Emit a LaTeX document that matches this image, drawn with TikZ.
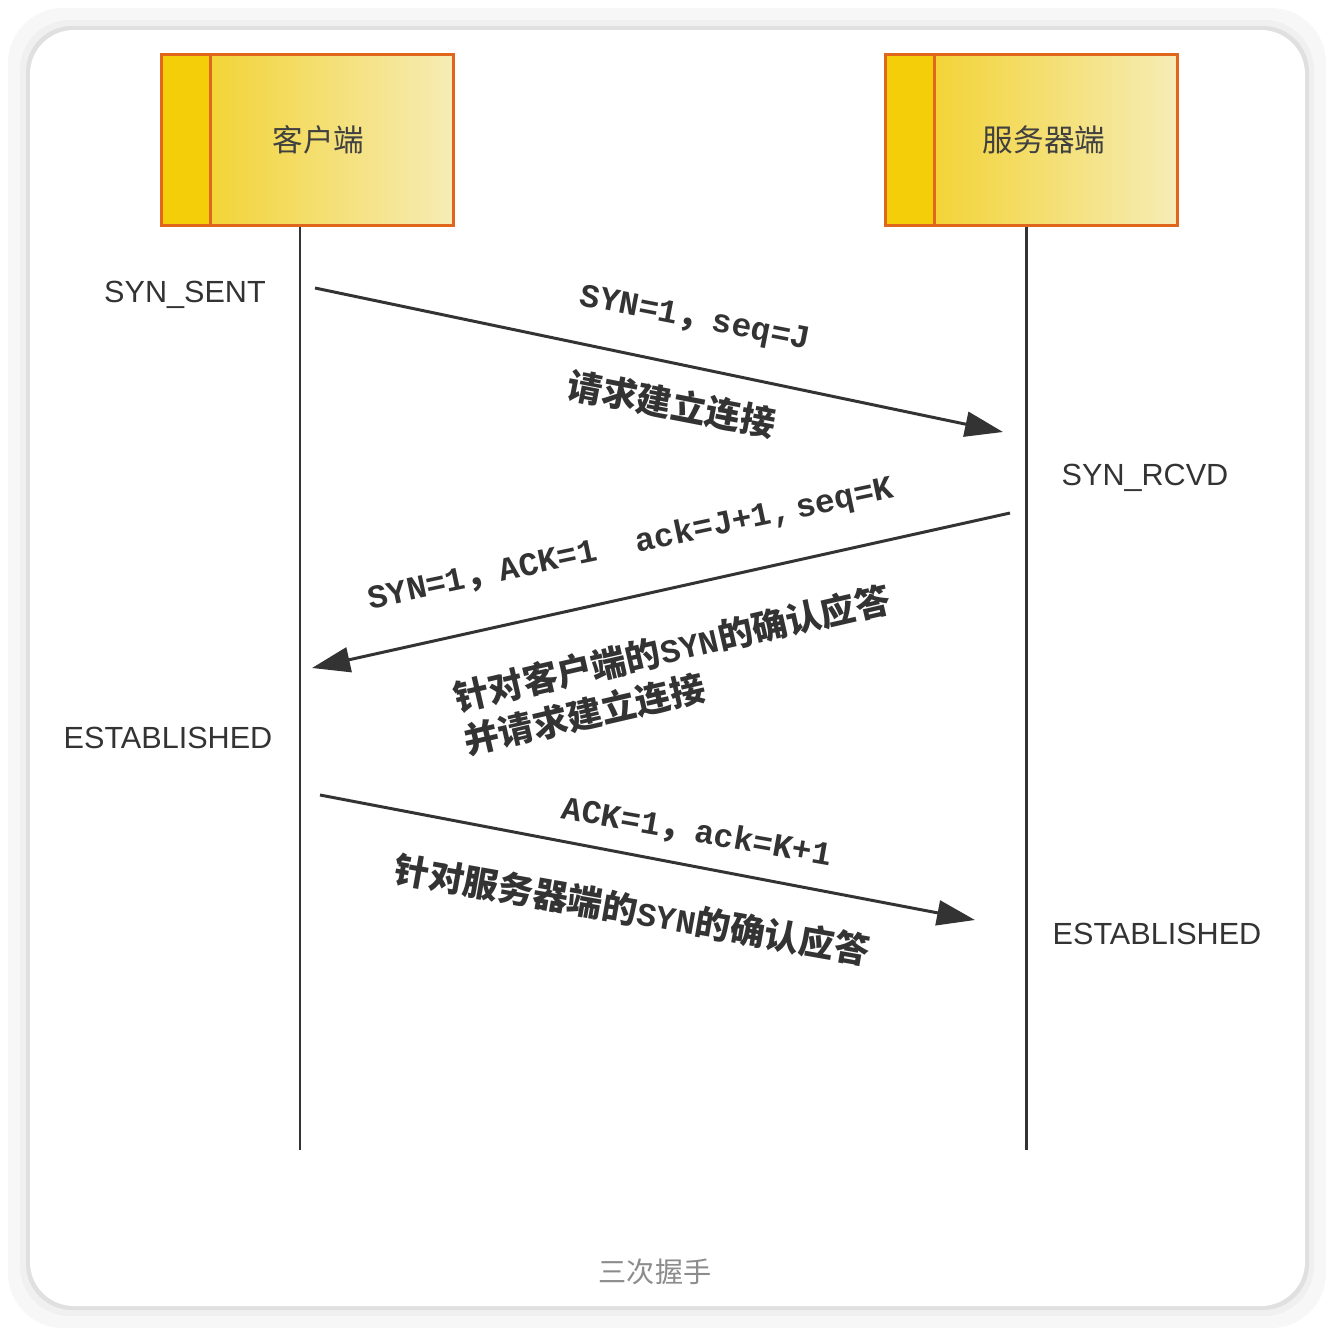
\documentclass[tikz,border=0pt]{standalone}
\usepackage{fontspec}
\setmainfont{Liberation Sans}
\newfontfamily\cjk{Noto Sans CJK SC}
\newfontfamily\mono{Liberation Mono}
\usetikzlibrary{arrows.meta,calc}

\definecolor{boxedge}{HTML}{E0661E}
\definecolor{boxstrip}{HTML}{F4CE08}
\definecolor{boxleft}{HTML}{F2CF1E}
\definecolor{boxright}{HTML}{F6ECB6}
\definecolor{inkline}{HTML}{333333}
\definecolor{captiongray}{HTML}{8C8C8C}

\newcommand{\lat}[1]{{\mono\fontsize{9.4}{12}\selectfont #1}}

\tikzset{
  hostbox/.style={draw=boxedge, line width=0.85pt, minimum width=2.91cm, minimum height=1.70cm,
    left color=boxleft, right color=boxright,
    path picture={
      \fill[boxstrip] (path picture bounding box.south west) rectangle ([xshift=0.49cm]path picture bounding box.north west);
      \draw[boxedge, line width=0.85pt] ([xshift=0.49cm]path picture bounding box.south west) -- ([xshift=0.49cm]path picture bounding box.north west);
    }},
  hosttext/.style={font=\cjk\fontsize{8.7}{10}\selectfont, text=black!75},
  lifeline/.style={draw=inkline, line width=0.85pt},
  msg/.style={draw=inkline, line width=0.85pt, -{Triangle[length=0.38cm, width=0.25cm]}},
  msglabel/.style={font=\cjk\bfseries\fontsize{10}{12.6}\selectfont, text=black!80, inner sep=0pt},
  state/.style={font=\fontsize{8.7}{10}\selectfont, text=black!80},
  caption/.style={font=\cjk\fontsize{8}{10}\selectfont, text=captiongray}
}

\begin{document}
\begin{tikzpicture}[x=0.01cm, y=-0.01cm]
\useasboundingbox (0,0) rectangle (1334,1336);
% card with soft shadow
\fill[black!3, rounded corners=0.55cm] (8,8) rectangle (1326,1328);
\fill[black!6, rounded corners=0.5cm] (20,20) rectangle (1314,1316);
\fill[black!12, rounded corners=0.46cm] (26,26) rectangle (1309,1310);
\fill[white, rounded corners=0.44cm] (30,30) rectangle (1305,1306);

% hosts
\node[hostbox] (client) at (307.5,140) {};
\node[hosttext] (clienttext) at ([xshift=0.11cm]client.center) {客户端};
\node[hostbox] (server) at (1031.5,140) {};
\node[hosttext] (servertext) at ([xshift=0.125cm]server.center) {服务器端};

% lifelines
\coordinate (clientend) at (300,1150);
\coordinate (serverend) at (1026,1150);
\draw[lifeline] (client.south -| clientend) -- (clientend);
\draw[lifeline] (server.south -| serverend) -- (serverend);

% messages
\coordinate (c1) at (315,288);
\coordinate (s1) at (1003,432);
\coordinate (s2) at (1010,513);
\coordinate (c2) at (312,668);
\coordinate (c3) at (320,795);
\coordinate (s3) at (975,920);
\draw[msg] (c1) -- (s1);
\draw[msg] (s2) -- (c2);
\draw[msg] (c3) -- (s3);

\node[msglabel, rotate=-11] (syn) at (695,320) {\lat{SYN=1}，\lat{seq=J}};
\node[msglabel, rotate=-11] (synnote) at (672,404) {请求建立连接};
\node[msglabel, rotate=12] (synack) at (631,545) {\lat{SYN=1}，\lat{ACK=1\ \ ack=J+1,\,seq=K}};
\node[msglabel, rotate=13, align=left] (synacknote) at (677,670) {针对客户端的\lat{SYN}的确认应答\\并请求建立连接};
\node[msglabel, rotate=-10] (ack) at (697,833) {\lat{ACK=1}，\lat{ack=K+1}};
\node[msglabel, rotate=-10] (acknote) at (632,910) {针对服务器端的\lat{SYN}的确认应答};

% states
\node[state] (synsent) at (185,295) {SYN\_SENT};
\node[state] (synrcvd) at (1145,478) {SYN\_RCVD};
\node[state] (estclient) at (168,738) {ESTABLISHED};
\node[state] (estserver) at (1157,934) {ESTABLISHED};

\node[caption] (title) at (655,1272) {三次握手};
\end{tikzpicture}
\end{document}
